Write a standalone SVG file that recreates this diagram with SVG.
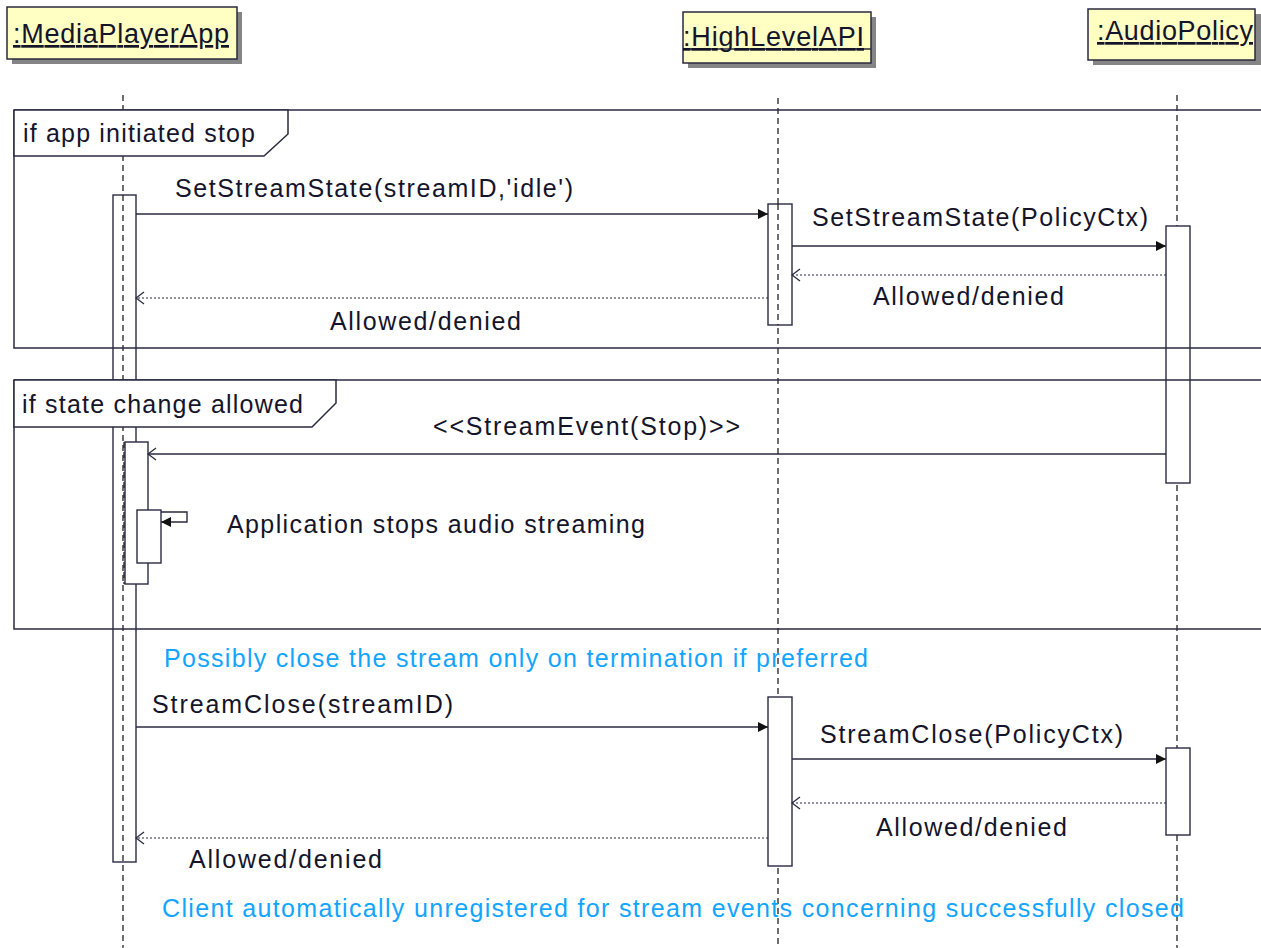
<svg xmlns="http://www.w3.org/2000/svg" width="1261" height="948" viewBox="0 0 1261 948">
<defs>
<style>
text{font-family:"Liberation Sans",Arial,sans-serif;fill:#14142a;}
.hdr{font-size:27px;text-decoration:underline;}
.lbl{font-size:25px;}
.note{font-size:25px;fill:#12a5ff;}
.box{fill:#ffffc4;stroke:#2a2a40;stroke-width:1.5;}
.shadow{fill:#858585;}
.life{stroke:#222;stroke-width:1.3;stroke-dasharray:6,4;fill:none;}
.act{fill:#fff;stroke:#2a2a40;stroke-width:1.4;}
.frame{fill:none;stroke:#2a2a40;stroke-width:1.5;}
.tag{fill:#fff;stroke:#2a2a40;stroke-width:1.5;}
.msg{stroke:#2a2a40;stroke-width:1.4;fill:none;}
.ret{stroke:#2a2a40;stroke-width:1.2;stroke-dasharray:2,2;fill:none;}
</style>
<marker id="filled" viewBox="0 0 10 10" refX="10" refY="5" markerWidth="10" markerHeight="10" markerUnits="userSpaceOnUse" orient="auto">
<path d="M0,0 L10,5 L0,10 z" fill="#111"/>
</marker>
<marker id="open" viewBox="0 0 10 14" refX="9" refY="7" markerWidth="10" markerHeight="14" markerUnits="userSpaceOnUse" orient="auto">
<path d="M1,1 L9,7 L1,13" fill="none" stroke="#2a2a40" stroke-width="1.3"/>
</marker>
</defs>
<rect width="1261" height="948" fill="#fff"/>

<g id="lifelines">
<line class="life" x1="123" y1="95" x2="123" y2="948"/>
<line class="life" x1="778" y1="98" x2="778" y2="948"/>
<line class="life" x1="1177" y1="95" x2="1177" y2="948"/>
</g>

<g id="MediaPlayerApp">
<rect class="shadow" x="12" y="12" width="230" height="52"/>
<rect class="box" x="7" y="7" width="230" height="52"/>
<text class="hdr" x="13" y="43" textLength="216" lengthAdjust="spacing">:MediaPlayerApp</text>
</g>
<g id="HighLevelAPI">
<rect class="shadow" x="688" y="17" width="188" height="51"/>
<rect class="box" x="683" y="12" width="188" height="51"/>
<line x1="683" y1="49" x2="871" y2="49" stroke="#2a2a40" stroke-width="1.3"/>
<text class="hdr" x="683" y="46" textLength="181" lengthAdjust="spacing">:HighLevelAPI</text>
</g>
<g id="AudioPolicy">
<rect class="shadow" x="1093" y="14" width="168" height="51"/>
<rect class="box" x="1088" y="9" width="167" height="51"/>
<text class="hdr" x="1097" y="40" textLength="156" lengthAdjust="spacing">:AudioPolicy</text>
</g>

<g id="activations">
<rect class="act" x="113" y="195" width="23" height="667"/>
<line class="life" x1="123" y1="195" x2="123" y2="862"/>
<rect class="act" x="768" y="204" width="24" height="121"/>
<line class="life" x1="778" y1="204" x2="778" y2="325"/>
<rect class="act" x="1166" y="226" width="24" height="257"/>
<rect class="act" x="125" y="442" width="23" height="142"/>
<line class="life" x1="124" y1="442" x2="124" y2="584"/>
<rect class="act" x="137" y="510" width="24" height="53"/>
<rect class="act" x="768" y="697" width="24" height="169"/>
<rect class="act" x="1166" y="748" width="24" height="87"/>
</g>

<g id="frame-app-initiated-stop">
<path class="frame" d="M14,110 H1262 M14,110 V348 H1262"/>
<path class="tag" d="M14,110 V156 H264 L288,134 V110 Z"/>
<text class="lbl" x="23" y="142" textLength="232" lengthAdjust="spacing">if app initiated stop</text>
</g>
<g id="frame-state-change-allowed">
<path class="frame" d="M14,380 H1262 M14,380 V629 H1262"/>
<path class="tag" d="M14,380 V427 H312 L336,403 V380 Z"/>
<text class="lbl" x="22" y="413" textLength="281" lengthAdjust="spacing">if state change allowed</text>
</g>

<g id="connectors">
<line class="msg" x1="136" y1="214" x2="768" y2="214" marker-end="url(#filled)"/>
<line class="msg" x1="792" y1="246" x2="1166" y2="246" marker-end="url(#filled)"/>
<line class="ret" x1="1166" y1="275" x2="792" y2="275" marker-end="url(#open)"/>
<line class="ret" x1="768" y1="298" x2="136" y2="298" marker-end="url(#open)"/>
<line class="msg" x1="1166" y1="454" x2="148" y2="454" marker-end="url(#open)"/>
<polyline class="msg" points="161,512 187,512 187,522 161,522" marker-end="url(#filled)"/>
<line class="msg" x1="136" y1="727" x2="768" y2="727" marker-end="url(#filled)"/>
<line class="msg" x1="792" y1="759" x2="1166" y2="759" marker-end="url(#filled)"/>
<line class="ret" x1="1166" y1="803" x2="792" y2="803" marker-end="url(#open)"/>
<line class="ret" x1="768" y1="838" x2="136" y2="838" marker-end="url(#open)"/>
</g>

<g id="labels">
<text class="lbl" x="175" y="197" textLength="398" lengthAdjust="spacing">SetStreamState(streamID,'idle')</text>
<text class="lbl" x="812" y="226" textLength="336" lengthAdjust="spacing">SetStreamState(PolicyCtx)</text>
<text class="lbl" x="873" y="305" textLength="191" lengthAdjust="spacing">Allowed/denied</text>
<text class="lbl" x="330" y="330" textLength="191" lengthAdjust="spacing">Allowed/denied</text>
<text class="lbl" x="433" y="435" textLength="307" lengthAdjust="spacing">&lt;&lt;StreamEvent(Stop)&gt;&gt;</text>
<text class="lbl" x="227" y="533" textLength="418" lengthAdjust="spacing">Application stops audio streaming</text>
<text class="note" x="164" y="667" textLength="704" lengthAdjust="spacing">Possibly close the stream only on termination if preferred</text>
<text class="lbl" x="152" y="713" textLength="301" lengthAdjust="spacing">StreamClose(streamID)</text>
<text class="lbl" x="820" y="743" textLength="303" lengthAdjust="spacing">StreamClose(PolicyCtx)</text>
<text class="lbl" x="876" y="836" textLength="191" lengthAdjust="spacing">Allowed/denied</text>
<text class="lbl" x="189" y="868" textLength="193" lengthAdjust="spacing">Allowed/denied</text>
<text class="note" x="162" y="917" textLength="1022" lengthAdjust="spacing">Client automatically unregistered for stream events concerning successfully closed</text>
</g>
</svg>
